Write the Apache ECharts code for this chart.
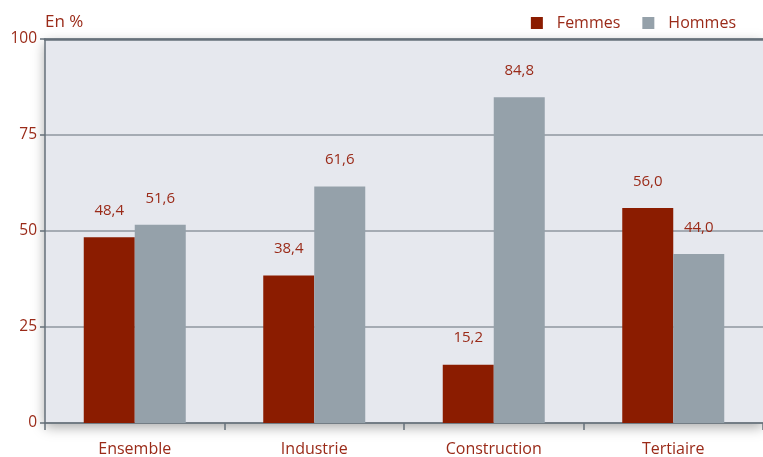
<!DOCTYPE html>
<html><head><meta charset="utf-8">
<script src="https://cdn.jsdelivr.net/npm/echarts@6/dist/echarts.min.js"></script>
<style>html,body{margin:0;padding:0;background:#fff}#c{width:763px;height:457px}</style>
</head><body><div id="c"></div>
<script>
const categories = ['Ensemble', 'Industrie', 'Construction', 'Tertiaire'];
const femmes = [48.4, 38.4, 15.2, 56.0];
const hommes = [51.6, 61.6, 84.8, 44.0];
const yTicks = [0, 25, 50, 75, 100];

const red = '#8b1c00';
const txt = '#9a2a18';
const font = '"Open Sans", "Noto Sans", sans-serif';
const fmt = p => p.value.toFixed(1).replace('.', ',');

const chart = echarts.init(document.getElementById('c'));
chart.setOption({
  animation: false,
  textStyle: { fontFamily: font },
  title: { text: 'En %', left: 40, top: 9, textStyle: { color: txt, fontSize: 17, fontWeight: 'normal', fontFamily: font } },
  legend: {
    right: 22, top: 10, itemWidth: 12, itemHeight: 12, itemGap: 22,
    icon: 'rect',
    textStyle: { color: txt, fontSize: 16, fontFamily: font, padding: [0, 0, 0, 9] },
    data: ['Femmes', 'Hommes']
  },
  grid: {
    left: 45, right: 0, top: 39, bottom: 32, show: true,
    backgroundColor: '#e6e8ee', borderWidth: 0,
    shadowColor: 'rgba(0,0,0,0.35)', shadowBlur: 12, shadowOffsetX: 0, shadowOffsetY: 4
  },
  xAxis: [{
    type: 'category', data: categories,
    axisLine: { lineStyle: { color: '#66707a', width: 1.5 } },
    axisTick: { show: true, length: 7, lineStyle: { color: '#66707a', width: 1.5 } },
    axisLabel: { color: txt, fontSize: 16, margin: 18, fontFamily: font }
  }, {
    type: 'category', data: categories, position: 'top',
    axisLine: { show: true, lineStyle: { color: '#66707a', width: 2.5 } },
    axisTick: { show: false }, axisLabel: { show: false }
  }],
  yAxis: {
    type: 'value', min: yTicks[0], max: yTicks[yTicks.length - 1], interval: 25,
    axisLine: { show: true, lineStyle: { color: '#66707a', width: 1.5 } },
    axisTick: { show: true, length: 5, lineStyle: { color: '#66707a', width: 1.5 } },
    axisLabel: { color: txt, fontSize: 15.5, margin: 8, fontFamily: font },
    splitLine: { show: true, lineStyle: { color: '#8f979f', width: 1.5 } }
  },
  series: [{
    name: 'Femmes', type: 'bar', data: femmes, barWidth: 51, barGap: '0%',
    itemStyle: { color: red },
    label: { show: true, position: 'top', distance: 19, color: txt, fontSize: 15, fontFamily: font, formatter: fmt }
  }, {
    name: 'Hommes', type: 'bar', data: hommes, barWidth: 51,
    itemStyle: { color: '#95a1aa' },
    label: { show: true, position: 'top', distance: 19, color: txt, fontSize: 15, fontFamily: font, formatter: fmt }
  }]
});
</script></body></html>
